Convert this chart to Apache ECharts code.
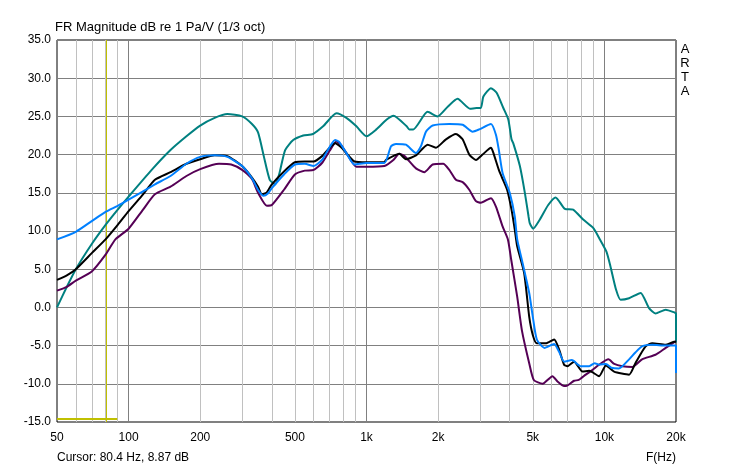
<!DOCTYPE html>
<html>
<head>
<meta charset="utf-8">
<script src="https://cdn.jsdelivr.net/npm/echarts@6/dist/echarts.min.js"></script>
<style>
  html, body { margin: 0; padding: 0; background: #fff; }
  #main { width: 732px; height: 470px; }
</style>
</head>
<body>
<div id="main"></div>
<script>
// ---- data ----
var tealFreq = [50,55,60,70,80,90,100,125,150,175,200,230,260,300,330,350,370,392,413,430,455,492,542,596,657,748,823,907,1000,1100,1216,1300,1475,1513,1573,1807,1990,2200,2414,2723,2900,3025,3100,3335,3524,3760,3945,4070,4138,4413,4631,4800,4860,5020,5355,5805,6235,6822,7390,8145,8975,9575,10200,10600,11200,11700,12700,14200,15400,16400,18100,19800,20000,20000];
var tealDb   = [0.0,2.7,5.0,8.3,10.8,12.8,14.5,18.0,20.6,22.4,23.8,24.8,25.3,25.0,24.0,22.9,19.8,16.7,16.1,17.5,20.6,21.9,22.5,22.7,23.7,25.4,24.8,23.7,22.4,23.3,24.6,25.1,23.7,23.3,23.3,25.6,25.0,26.3,27.3,26.0,26.1,26.1,27.6,28.7,28.1,26.1,24.6,22.0,21.5,18.5,15.0,11.9,11.0,10.3,11.5,13.4,14.4,12.9,12.8,11.5,10.4,8.9,7.3,5.4,2.3,1.0,1.2,1.9,-0.1,-0.8,-0.3,-0.7,-0.8,-4.6];

var blackFreq = [50,55,60,70,80,90,100,115,129,150,175,200,230,260,300,330,350,363,380,400,450,500,550,600,650,700,738,780,823,890,1000,1188,1208,1373,1465,1614,1807,1958,2158,2376,2535,2704,2885,3076,3335,3400,3600,3700,3900,4070,4200,4300,4600,4830,5000,5200,5670,6150,6450,6770,6990,7460,8090,8630,9500,10150,10980,12700,13500,14900,15900,18100,19600,20000];
var blackDb   = [3.6,4.2,5.0,7.1,8.9,10.8,12.6,14.8,16.7,17.7,18.8,19.4,19.9,19.8,18.5,17.0,15.8,14.8,15.0,16.1,17.8,19.0,19.1,19.1,19.8,20.9,21.5,21.0,20.2,19.1,19.0,19.0,19.3,20.1,19.4,19.9,21.3,20.9,22.0,22.7,22.0,20.0,19.3,20.0,20.9,20.4,18.0,17.1,15.4,12.8,10.2,8.0,4.5,-1.2,-3.6,-4.7,-4.7,-4.2,-5.5,-7.5,-7.7,-7.1,-8.4,-8.3,-9.0,-7.6,-8.4,-8.8,-7.3,-5.1,-4.7,-4.9,-4.5,-4.5];

var blueFreq = [50,60,70,80,90,100,129,150,175,200,230,260,300,330,350,369,385,400,450,500,550,600,650,700,738,766,823,890,1000,1188,1268,1330,1465,1614,1694,1778,1897,2228,2535,2793,2977,3335,3500,3600,3733,4000,4200,4300,4500,4830,5000,5200,5600,6150,6450,6770,7300,7960,8630,9100,9500,10150,10700,11500,12700,13500,14400,15900,18100,19600,20000,20000];
var blueDb   = [8.9,9.9,11.3,12.5,13.3,14.1,16.1,17.2,18.8,19.7,19.9,19.7,18.5,16.9,15.4,14.6,14.9,15.6,17.4,18.7,18.8,18.5,19.3,21.0,21.9,21.7,20.2,18.7,18.9,18.9,21.1,21.4,21.3,20.2,21.1,23.0,23.8,24.0,23.9,23.0,23.3,24.0,22.6,20.6,17.6,15.0,11.9,8.9,6.2,1.9,-1.2,-4.2,-5.3,-4.8,-5.8,-7.1,-6.9,-7.7,-7.7,-7.3,-7.5,-7.4,-7.9,-8.0,-6.8,-5.9,-5.1,-4.9,-5.0,-5.0,-5.0,-8.6];

var purpleFreq = [50,55,60,70,80,88,100,115,129,150,175,200,240,270,300,330,350,381,400,450,500,550,600,650,700,748,780,823,907,1000,1188,1297,1373,1445,1614,1749,1897,2100,2228,2376,2535,2704,2885,3025,3335,3500,3733,3930,4060,4300,4500,4830,5050,5500,6050,6350,6770,7000,7460,7800,8350,8900,9500,10400,11000,11900,13100,14400,16400,18100,19800,20000];
var purpleDb   = [2.2,2.7,3.5,4.7,6.9,8.9,10.3,12.8,14.8,15.8,17.2,18.1,18.8,18.7,18.0,16.8,15.0,13.3,13.4,15.4,17.4,17.9,18.0,18.9,20.5,21.7,21.3,20.2,18.4,18.4,18.5,19.3,20.1,19.8,18.2,17.7,18.7,18.8,18.0,16.7,16.4,15.4,13.9,13.7,14.3,13.2,10.6,8.9,6.2,1.4,-3.0,-7.3,-9.5,-10.0,-9.0,-9.7,-10.3,-10.2,-9.6,-9.5,-8.8,-8.2,-7.5,-6.8,-7.4,-7.7,-7.8,-6.8,-6.2,-5.3,-4.5,-4.4];

var cursorFreq = 80.4;
var markerFreq = [50, 89.6];
var markerDb = [-14.6, -14.6];

var xTickFreq = [50,100,200,500,1000,2000,5000,10000,20000];
var xTickText = ['50','100','200','500','1k','2k','5k','10k','20k'];
var minorFreq = [60,70,80,90,200,300,400,500,600,700,800,900,2000,3000,4000,5000,6000,7000,8000,9000];
var decadeFreq = [100,1000,10000];

function pairs(f, d) {
  var out = [];
  for (var i = 0; i < f.length; i++) out.push([f[i], d[i]]);
  return out;
}
function vlines(list) {
  return list.map(function (f) { return { xAxis: f }; });
}

var FONT = 'Liberation Sans';
var myChart = echarts.init(document.getElementById('main'));

function curve(name, color, f, d) {
  return {
    name: name, type: 'line', data: pairs(f, d), symbol: 'none',
    smooth: 0.2,
    lineStyle: { color: color, width: 2 }, silent: true, z: 5
  };
}

myChart.setOption({
  animation: false,
  backgroundColor: '#fff',
  title: {
    text: 'FR Magnitude dB re 1 Pa/V (1/3 oct)',
    left: 55, top: 21, padding: 0,
    textStyle: { fontFamily: FONT, fontSize: 13, fontWeight: 'normal', color: '#000' }
  },
  grid: { left: 57, right: 56, top: 40, bottom: 48, show: true, borderColor: '#000', borderWidth: 1 },
  xAxis: {
    type: 'log', logBase: 10, min: 50, max: 20000,
    axisLine: { show: false }, axisTick: { show: false },
    axisLabel: { show: false }, splitLine: { show: false }
  },
  yAxis: {
    type: 'value', min: -15, max: 35, interval: 5,
    axisLine: { show: false }, axisTick: { show: false },
    axisLabel: {
      color: '#000', fontFamily: FONT, fontSize: 12, margin: 6,
      formatter: function (v) { return v.toFixed(1); }
    },
    splitLine: { lineStyle: { color: '#808080', width: 1 } }
  },
  series: [
    {
      type: 'line', data: [], silent: true, z: 1,
      markLine: {
        silent: true, symbol: 'none', animation: false,
        label: { show: false },
        lineStyle: { color: '#c0c0c0', width: 1, type: 'solid' },
        data: vlines(minorFreq)
      }
    },
    {
      type: 'line', data: [], silent: true, z: 2,
      markLine: {
        silent: true, symbol: 'none', animation: false,
        label: { show: false },
        lineStyle: { color: '#808080', width: 1, type: 'solid' },
        data: vlines(decadeFreq)
      }
    },
    curve('teal', '#008080', tealFreq, tealDb),
    curve('purple', '#550055', purpleFreq, purpleDb),
    curve('black', '#000000', blackFreq, blackDb),
    curve('blue', '#0080ff', blueFreq, blueDb),
    {
      type: 'line', data: pairs(markerFreq, markerDb), symbol: 'none', silent: true, z: 6,
      lineStyle: { color: '#c0c000', width: 2 },
      markLine: {
        silent: true, symbol: 'none', animation: false,
        label: { show: false },
        lineStyle: { color: '#c0c000', width: 1, type: 'solid' },
        data: [{ xAxis: cursorFreq }]
      }
    }
  ]
});

// x tick labels, placed through the axis scale
var texts = [];
xTickFreq.forEach(function (f, i) {
  var p = myChart.convertToPixel({ gridIndex: 0 }, [f, -15]);
  texts.push({
    type: 'text', x: p[0], y: p[1] + 16,
    style: { text: xTickText[i], fill: '#000', font: '12px ' + FONT, textAlign: 'center', textVerticalAlign: 'middle' }
  });
});
texts.push({
  type: 'text', x: 57, y: 458,
  style: { text: 'Cursor: 80.4 Hz, 8.87 dB', fill: '#000', font: '12px ' + FONT, textAlign: 'left', textVerticalAlign: 'middle' }
});
texts.push({
  type: 'text', x: 676, y: 458,
  style: { text: 'F(Hz)', fill: '#000', font: '12px ' + FONT, textAlign: 'right', textVerticalAlign: 'middle' }
});
texts.push({
  type: 'text', x: 685, y: 42,
  style: { text: 'A\nR\nT\nA', fill: '#000', font: '13px ' + FONT, textAlign: 'center', textVerticalAlign: 'top', lineHeight: 14 }
});
myChart.setOption({ graphic: texts });
</script>
</body>
</html>
